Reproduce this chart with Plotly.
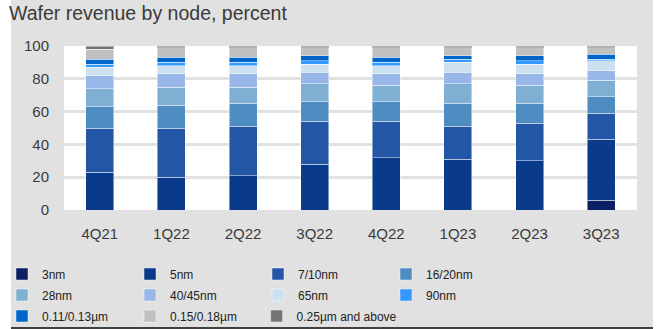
import plotly.graph_objects as go

quarters = ["4Q21", "1Q22", "2Q22", "3Q22", "4Q22", "1Q23", "2Q23", "3Q23"]

nodes = ["3nm", "5nm", "7/10nm", "16/20nm", "28nm", "40/45nm", "65nm", "90nm",
         "0.11/0.13µm", "0.15/0.18µm", "0.25µm and above"]

v_3nm     = [0, 0, 0, 0, 0, 0, 0, 6]
v_5nm     = [23, 20, 21, 28, 32, 31, 30, 37]
v_7nm     = [27, 30, 30, 26, 22, 20, 23, 16]
v_16nm    = [13, 14, 14, 12, 12, 14, 12, 10]
v_28nm    = [11, 11, 10, 11, 10, 12, 11, 10]
v_40nm    = [8, 8, 8, 7, 7, 7, 7, 6]
v_65nm    = [5, 5, 5, 5, 5, 6, 6, 6]
v_90nm    = [2, 2, 2, 2, 2, 2, 2, 1]
v_011     = [3, 3, 3, 3, 3, 2, 3, 3]
v_015     = [6, 6, 6, 5, 6, 5, 5, 4]
v_025     = [2, 1, 1, 1, 1, 1, 1, 1]

series = [v_3nm, v_5nm, v_7nm, v_16nm, v_28nm, v_40nm, v_65nm, v_90nm, v_011, v_015, v_025]

colors = ["#0b1f62", "#0a3a8a", "#2456a6", "#4f8cc2", "#7fb0d3", "#98b7e8",
          "#cde0f0", "#3399ff", "#0066cc", "#c0c0c0", "#737373"]

BG = "#e1e1e1"
TXT = "#3a3a3a"

W, H = 659, 329
L, R, T, B = 64, 22, 46, 119
PW, PH = W - L - R, H - T - B


def px_x(p):
    return (p - L) / PW


def px_y(p):
    return (H - B - p) / PH


# legend grid: 4 columns x 3 rows
legend_ids = ["legend", "legend", "legend", "legend",
              "legend2", "legend2", "legend2", "legend2",
              "legend3", "legend3", "legend4"]
col_x = [2, 129.3, 256.6, 383.9]
row_y = [274, 295, 316]

fig = go.Figure()
for name, vals, col, lg in zip(nodes, series, colors, legend_ids):
    fig.add_trace(go.Bar(
        x=quarters, y=vals, name=name, legend=lg,
        marker=dict(color=col, line=dict(color="rgba(255,255,255,0.45)", width=1)),
    ))

leg_common = dict(orientation="h", traceorder="normal", xanchor="left",
                  yanchor="middle", bgcolor="rgba(0,0,0,0)",
                  font=dict(size=12, color="#222222",
                            family="Liberation Sans, Arial, sans-serif"))

fig.update_layout(
    width=W, height=H,
    barmode="stack", bargap=0.61,
    paper_bgcolor=BG, plot_bgcolor="white",
    margin=dict(l=L, r=R, t=T, b=B, autoexpand=False),
    font=dict(family="Liberation Sans, Arial, sans-serif", color=TXT),
    title=dict(text="Wafer revenue by node, percent", x=9 / W, xref="container", xanchor="left",
               y=1, yref="container", yanchor="top", pad=dict(t=6, l=0),
               font=dict(size=19.5, color=TXT, family="Liberation Sans, Arial, sans-serif")),
    xaxis=dict(showgrid=False, zeroline=False, showline=False, ticks="",
               tickfont=dict(size=15, color=TXT), ticklabelstandoff=13),
    yaxis=dict(range=[0, 100], dtick=20, showgrid=True, gridcolor=BG, gridwidth=3,
               zeroline=False, showline=False, ticks="",
               tickfont=dict(size=15, color=TXT), ticklabelstandoff=14),
    legend=dict(leg_common, x=px_x(col_x[0]), y=px_y(row_y[0]),
                entrywidthmode="pixels", entrywidth=83),
    legend2=dict(leg_common, x=px_x(col_x[0]), y=px_y(row_y[1]),
                 entrywidthmode="pixels", entrywidth=83),
    legend3=dict(leg_common, x=px_x(col_x[0]), y=px_y(row_y[2]),
                 entrywidthmode="pixels", entrywidth=83),
    legend4=dict(leg_common, x=px_x(col_x[2]), y=px_y(row_y[2])),
    showlegend=True,
    shapes=[
        dict(type="rect", xref="paper", yref="paper", x0=px_x(-5), x1=px_x(11),
             y0=px_y(H + 5), y1=px_y(-5), fillcolor="white", line_width=0, layer="below"),
        dict(type="rect", xref="paper", yref="paper", x0=px_x(653), x1=px_x(W + 5),
             y0=px_y(H + 5), y1=px_y(-5), fillcolor="white", line_width=0, layer="below"),
        dict(type="line", xref="paper", yref="paper", x0=px_x(11), x1=px_x(653),
             y0=px_y(328), y1=px_y(328), line=dict(color="#404040", width=2)),
    ],
)

fig.write_html("out.html")
